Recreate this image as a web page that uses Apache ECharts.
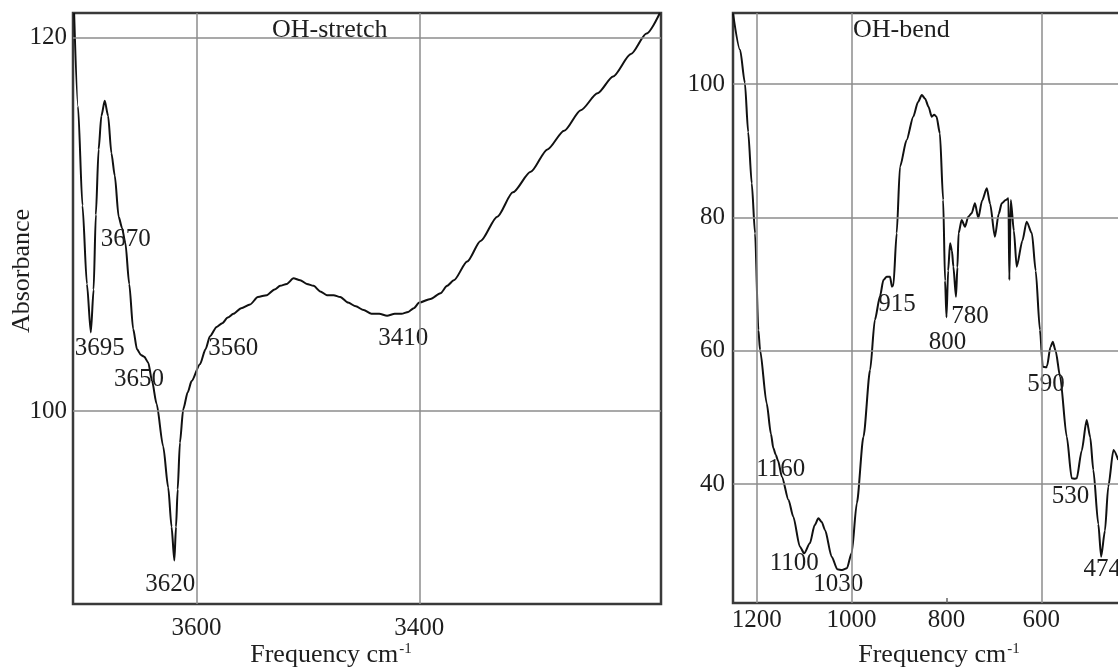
<!DOCTYPE html>
<html>
<head>
<meta charset="utf-8">
<script src="https://cdn.jsdelivr.net/npm/echarts@6/dist/echarts.min.js"></script>
<style>
  html, body { margin: 0; padding: 0; background: #fff; }
  #chart { width: 1118px; height: 668px; }
</style>
</head>
<body>
<div id="chart"></div>
<script>
// OH-stretch region: wavenumber (cm-1) and absorbance
const stretchWn = [3710, 3706.5, 3702.5, 3698.5, 3695, 3692.5, 3690.5, 3688, 3685.5, 3682.5, 3679.5, 3676.5, 3673.5, 3670, 3667, 3664, 3660.5, 3657, 3653.5, 3650, 3647, 3643.5, 3640, 3636, 3630, 3625.5, 3622.5, 3620, 3618.5, 3617, 3615, 3612, 3608, 3604.5, 3597, 3592, 3588, 3582, 3577, 3572, 3567, 3560, 3552, 3545, 3537, 3530, 3525, 3519, 3513, 3507, 3501, 3495, 3489, 3483, 3477, 3471, 3464, 3457, 3450, 3443, 3436, 3429, 3422, 3416, 3410, 3405, 3400, 3390, 3381, 3375, 3369, 3357, 3345, 3330, 3316, 3300, 3285, 3270, 3255, 3240, 3226, 3210, 3196, 3184];
const stretchAbs = [121.3, 116.3, 111.0, 106.8, 104.2, 106.5, 110.5, 114.0, 115.8, 116.6, 115.8, 113.8, 112.6, 110.4, 109.8, 109.0, 106.8, 104.4, 103.3, 103.0, 102.9, 102.6, 101.6, 100.4, 98.1, 95.9, 93.8, 92.0, 93.8, 95.8, 98.3, 100.1, 101.0, 101.6, 102.5, 103.3, 104.0, 104.5, 104.7, 105.0, 105.2, 105.5, 105.7, 106.1, 106.2, 106.5, 106.7, 106.8, 107.1, 107.0, 106.8, 106.7, 106.4, 106.2, 106.2, 106.1, 105.8, 105.6, 105.4, 105.2, 105.2, 105.1, 105.2, 105.2, 105.3, 105.5, 105.8, 106.0, 106.3, 106.7, 107.0, 108.0, 109.1, 110.4, 111.7, 112.8, 114.0, 115.0, 116.1, 117.0, 117.9, 119.1, 120.2, 121.3];
const stretchPeaks = [3695, 3670, 3650, 3620, 3560, 3410];

// OH-bend region
const bendWn = [1250, 1235, 1225, 1218, 1210.5, 1203.5, 1196.5, 1193, 1179, 1170, 1165, 1160, 1155, 1147, 1133, 1123, 1109, 1100, 1088, 1078, 1070, 1063, 1056, 1042, 1030, 1020, 1010, 1000, 989, 975, 961, 951, 940, 933, 926, 919, 915, 912, 905, 898, 884, 870, 860, 852, 845, 838, 831, 826, 821, 814, 807, 803, 800, 796.5, 792.5, 788.5, 785.5, 780, 777, 774.5, 768, 761, 754, 747, 740, 733, 725, 715, 708, 698, 690, 683.5, 675, 669.5, 667.5, 664.5, 658, 652, 640, 631, 620, 612, 603, 597, 590, 588, 581, 576, 570, 560.5, 546.5, 536, 530, 525.5, 515, 504.5, 497, 490.5, 480, 474, 466, 459, 448, 438];
const bendAbs = [110.6, 105.1, 100.2, 92.8, 85.1, 77.6, 63.1, 60.1, 52.1, 47.5, 45.4, 44.4, 43.5, 41.1, 37.6, 35.1, 30.6, 29.6, 31.1, 33.8, 34.85, 34.3, 33.1, 29.1, 27.2, 27.1, 27.35, 29.6, 37.1, 47.1, 57.1, 64.6, 68.2, 70.6, 71.1, 71.1, 69.6, 69.8, 77.6, 87.6, 91.6, 95.1, 97.3, 98.35, 97.8, 96.6, 95.1, 95.4, 95.1, 92.6, 82.6, 70.5, 65.0, 72.0, 76.1, 75.0, 72.6, 68.1, 72.5, 77.6, 79.6, 78.6, 80.1, 80.6, 82.1, 79.9, 82.5, 84.35, 82.0, 77.1, 80.5, 82.1, 82.6, 82.85, 70.6, 82.6, 78.0, 72.6, 76.5, 79.35, 77.6, 72.0, 63.1, 57.6, 57.5, 57.7, 60.5, 61.35, 60.0, 56.1, 47.1, 40.85, 40.8, 40.85, 45.0, 49.6, 47.0, 42.1, 34.0, 29.1, 33.0, 39.6, 45.1, 43.6];
const bendPeaks = [1160, 1100, 1030, 915, 800, 780, 590, 530, 474];

// Axis ticks and grid lines
const stretchXTicks = [3600, 3400];
const stretchYTicks = [120, 100];
const bendXTicks = [1200, 1000, 800, 600];
const bendYTicks = [100, 80, 60, 40];
const bendXGrid = [1200, 1000, 600];

// Pixel offsets of each peak label from its peak point
const labelOffsets = {
  3695: [9, 16], 3670: [7, 23], 3650: [-2, 25], 3620: [-4, 24], 3560: [-8, 40], 3410: [-5, 26],
  1160: [5, 15], 1100: [-10, 10], 1030: [1, 15], 915: [5, 18], 800: [1, 25], 780: [14, 20],
  590: [0, 17], 530: [-4, 18], 474: [1, 13]
};

const FONT = '"Liberation Serif", "Times New Roman", serif';
const INK = '#1e1e1e';
const GRID_GRAY = '#8c8c8c';

const pairs = (xs, ys) => xs.map((x, i) => [x, ys[i]]);
function peakPoints(xs, ys, peaks) {
  return peaks.map(p => {
    const i = xs.indexOf(p);
    return {
      value: [p, ys[i]], name: String(p),
      label: { offset: labelOffsets[p] }
    };
  });
}

function gridLines(xVals, yVals, gridIndex) {
  return {
    type: 'line', xAxisIndex: gridIndex, yAxisIndex: gridIndex, data: [], z: 1,
    silent: true,
    markLine: {
      silent: true, symbol: ['none', 'none'], animation: false,
      label: { show: false },
      lineStyle: { type: 'solid', color: GRID_GRAY, width: 1.5 },
      emphasis: { disabled: true },
      data: xVals.map(v => ({ xAxis: v })).concat(yVals.map(v => ({ yAxis: v })))
    }
  };
}

const tickLabel = { fontFamily: FONT, fontSize: 25, color: INK, formatter: v => String(v) };
const peakLabel = {
  show: true, position: 'inside', formatter: '{b}',
  fontFamily: FONT, fontSize: 25, color: INK, opacity: 1, textBorderWidth: 0
};

const option = {
  backgroundColor: '#fff',
  animation: false,
  grid: [
    { left: 73, top: 13, width: 588, height: 591, show: true, borderColor: '#3a3a3a', borderWidth: 2.5, backgroundColor: 'transparent', outerBoundsMode: 'none', containLabel: false },
    // the right panel runs past the edge of the canvas
    { left: 733, top: 13, width: 445, height: 590, show: true, borderColor: '#3a3a3a', borderWidth: 2.5, backgroundColor: 'transparent', outerBoundsMode: 'none', containLabel: false }
  ],
  xAxis: [
    {
      type: 'value', gridIndex: 0, min: 3183, max: 3711, inverse: true,
      axisLine: { show: false }, axisTick: { show: false }, splitLine: { show: false },
      axisLabel: Object.assign({ customValues: stretchXTicks, margin: 12 }, tickLabel)
    },
    {
      type: 'value', gridIndex: 1, min: 312, max: 1250, inverse: true,
      axisLine: { show: false }, splitLine: { show: false },
      axisTick: { show: true, inside: true, length: 5, customValues: [800], lineStyle: { color: '#666', width: 1.5 } },
      axisLabel: Object.assign({ customValues: bendXTicks, margin: 5 }, tickLabel)
    }
  ],
  yAxis: [
    {
      type: 'value', gridIndex: 0, min: 89.67, max: 121.3,
      axisLine: { show: false }, axisTick: { show: false }, splitLine: { show: false },
      axisLabel: Object.assign({ customValues: stretchYTicks, margin: 6 }, tickLabel)
    },
    {
      type: 'value', gridIndex: 1, min: 22.15, max: 110.65,
      axisLine: { show: false }, axisTick: { show: false }, splitLine: { show: false },
      axisLabel: Object.assign({ customValues: bendYTicks, margin: 8 }, tickLabel)
    }
  ],
  series: [
    gridLines(stretchXTicks, stretchYTicks, 0),
    gridLines(bendXGrid, bendYTicks, 1),
    {
      type: 'line', xAxisIndex: 0, yAxisIndex: 0, z: 3,
      data: pairs(stretchWn, stretchAbs),
      showSymbol: false, smooth: 0.25, smoothMonotone: 'x',
      lineStyle: { color: '#111', width: 2 }
    },
    {
      type: 'line', xAxisIndex: 1, yAxisIndex: 1, z: 3,
      data: pairs(bendWn, bendAbs),
      showSymbol: false, smooth: 0.25, smoothMonotone: 'x',
      lineStyle: { color: '#111', width: 2 }
    },
    {
      type: 'scatter', xAxisIndex: 0, yAxisIndex: 0, z: 4, silent: true,
      symbolSize: 0, itemStyle: { color: INK },
      data: peakPoints(stretchWn, stretchAbs, stretchPeaks),
      label: peakLabel
    },
    {
      type: 'scatter', xAxisIndex: 1, yAxisIndex: 1, z: 4, silent: true,
      symbolSize: 0, itemStyle: { color: INK },
      data: peakPoints(bendWn, bendAbs, bendPeaks),
      label: peakLabel
    }
  ],
  graphic: [
    {
      type: 'text', left: 272, top: 17, z: 10,
      style: { text: 'OH-stretch', font: '26px ' + FONT, fill: INK }
    },
    {
      type: 'text', left: 853, top: 17, z: 10,
      style: { text: 'OH-bend', font: '26px ' + FONT, fill: INK }
    },
    {
      type: 'text', x: 22.5, y: 271, rotation: Math.PI / 2, z: 10,
      style: { text: 'Absorbance', font: '26px ' + FONT, fill: INK, align: 'center', verticalAlign: 'middle' }
    },
    {
      type: 'text', x: 331, y: 655, z: 10,
      style: {
        text: '{a|Frequency cm}{s|-1}', align: 'center', verticalAlign: 'middle', fill: INK,
        rich: {
          a: { font: '26px ' + FONT, fill: INK, verticalAlign: 'bottom' },
          s: { font: '15px ' + FONT, fill: INK, verticalAlign: 'top', padding: [0, 0, 10, 1] }
        }
      }
    },
    {
      type: 'text', x: 939, y: 655, z: 10,
      style: {
        text: '{a|Frequency cm}{s|-1}', align: 'center', verticalAlign: 'middle', fill: INK,
        rich: {
          a: { font: '26px ' + FONT, fill: INK, verticalAlign: 'bottom' },
          s: { font: '15px ' + FONT, fill: INK, verticalAlign: 'top', padding: [0, 0, 10, 1] }
        }
      }
    }
  ]
};

const chart = echarts.init(document.getElementById('chart'), null, { renderer: 'canvas' });
chart.setOption(option);
</script>
</body>
</html>
